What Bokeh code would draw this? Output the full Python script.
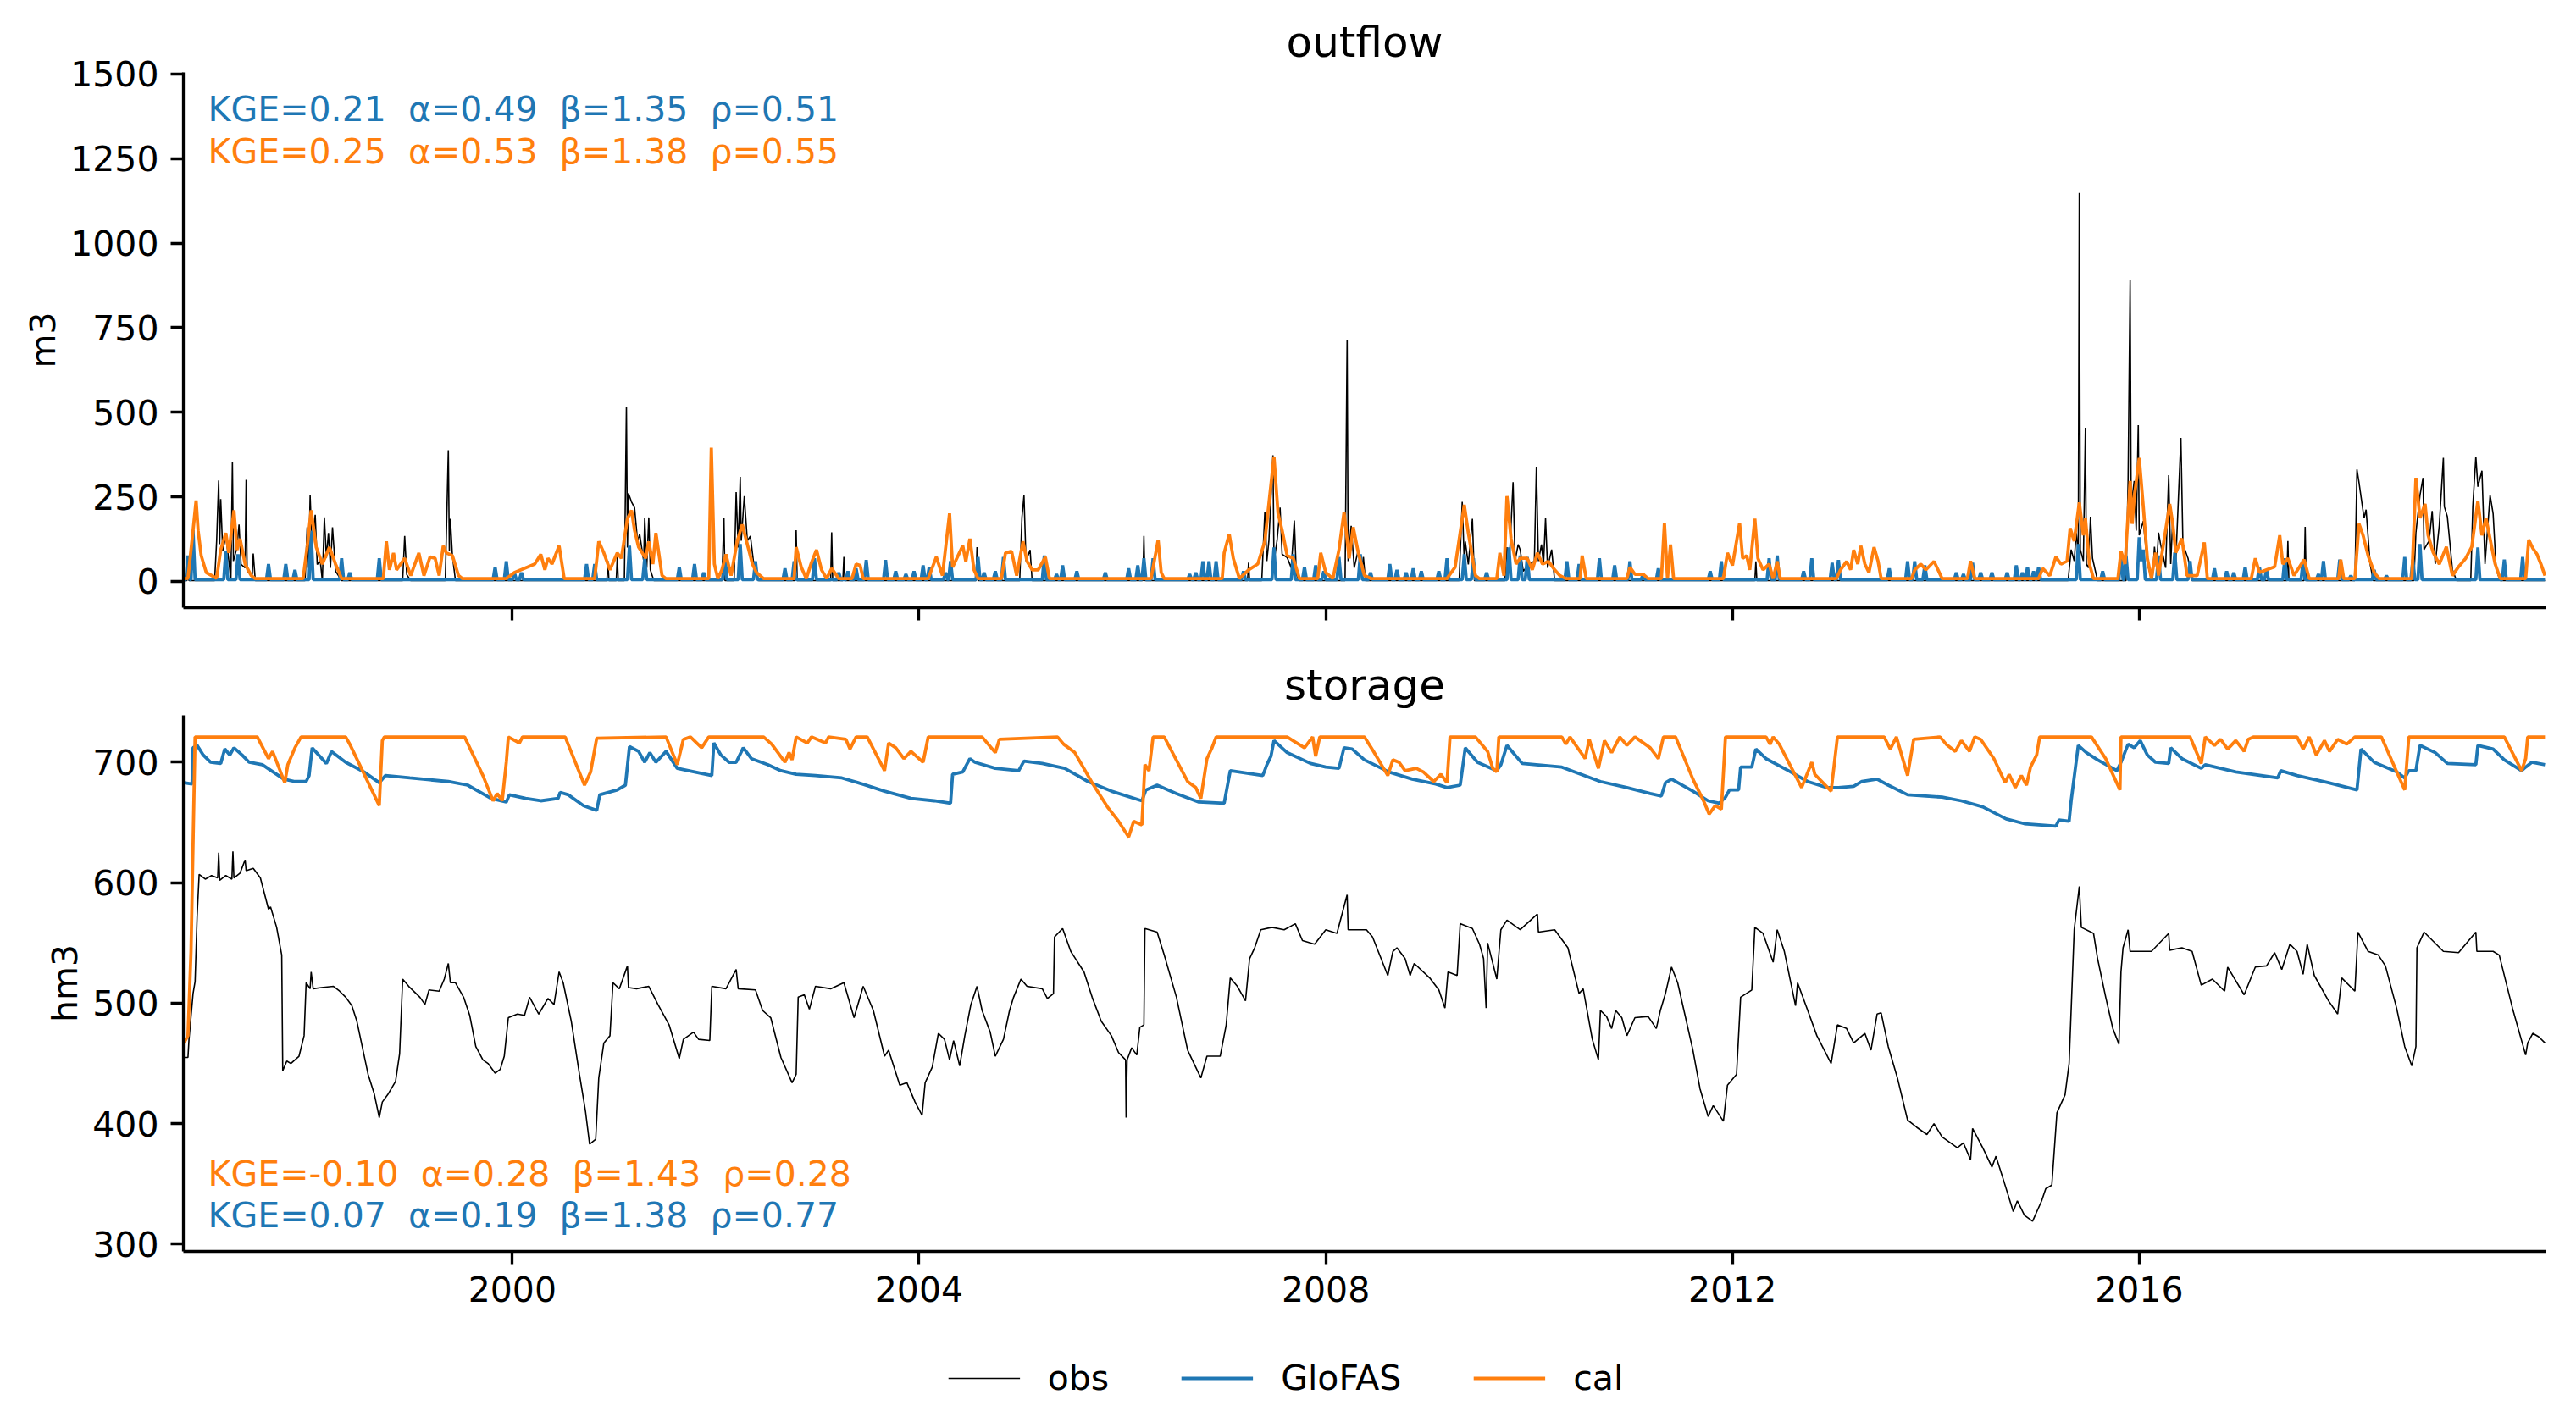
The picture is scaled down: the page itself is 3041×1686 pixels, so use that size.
import numpy as np
import pandas as pd
from bokeh.plotting import figure
from bokeh.layouts import column
from bokeh.models import (ColumnDataSource, Range1d, FixedTicker, DatetimeTickFormatter,
                          CustomJSTickFormatter, Label, Legend, LegendItem)
from bokeh.embed import file_html
from bokeh.resources import INLINE

FONT = "DejaVu Sans"
BLACK, BLUE, ORANGE = "#000000", "#1f77b4", "#ff7f0e"

# series: (decimal year, value)
obs_outflow = [
    (1996.77, 2), (1996.80, 2), (1996.81, 76), (1996.82, 2), (1997.07, 2), (1997.09, 120), (1997.11, 298),
    (1997.12, 110), (1997.13, 243), (1997.15, 90), (1997.18, 134), (1997.21, 60), (1997.23, 2), (1997.245, 352),
    (1997.255, 60), (1997.29, 100), (1997.31, 168), (1997.33, 50), (1997.37, 40), (1997.38, 300), (1997.39, 30),
    (1997.44, 20), (1997.45, 82), (1997.47, 2), (1997.96, 2), (1997.98, 160), (1997.995, 40), (1998.01, 254),
    (1998.03, 90), (1998.06, 197), (1998.08, 50), (1998.11, 60), (1998.13, 2), (1998.15, 189), (1998.17, 70),
    (1998.19, 143), (1998.21, 40), (1998.23, 160), (1998.26, 30), (1998.32, 2), (1998.92, 2), (1998.94, 134),
    (1998.96, 20), (1999.00, 2), (1999.34, 2), (1999.37, 388), (1999.38, 90), (1999.39, 185), (1999.41, 76),
    (1999.44, 2), (2000.93, 2), (2000.94, 60), (2000.95, 2), (2001.02, 2), (2001.03, 72), (2001.04, 2),
    (2001.10, 2), (2001.12, 515), (2001.13, 100), (2001.14, 260), (2001.17, 235), (2001.20, 218), (2001.23, 118),
    (2001.25, 140), (2001.29, 60), (2001.30, 189), (2001.32, 40), (2001.34, 189), (2001.355, 34), (2001.39, 2),
    (2002.06, 2), (2002.08, 189), (2002.09, 2), (2002.18, 2), (2002.20, 264), (2002.22, 100), (2002.24, 309),
    (2002.25, 120), (2002.28, 252), (2002.31, 120), (2002.34, 134), (2002.37, 59), (2002.42, 2), (2002.78, 2),
    (2002.79, 151), (2002.80, 2), (2003.13, 2), (2003.14, 145), (2003.15, 2), (2003.25, 2), (2003.26, 72),
    (2003.27, 2), (2004.56, 2), (2004.57, 101), (2004.58, 2), (2004.99, 2), (2005.01, 189), (2005.03, 254),
    (2005.05, 60), (2005.09, 93), (2005.11, 2), (2006.20, 2), (2006.21, 134), (2006.22, 2), (2007.23, 2),
    (2007.24, 55), (2007.25, 2), (2007.37, 2), (2007.40, 206), (2007.42, 60), (2007.44, 120), (2007.48, 373),
    (2007.49, 59), (2007.52, 120), (2007.55, 218), (2007.57, 80), (2007.62, 70), (2007.66, 40), (2007.69, 180),
    (2007.71, 20), (2007.74, 2), (2008.19, 2), (2008.21, 713), (2008.22, 60), (2008.25, 164), (2008.28, 40),
    (2008.32, 93), (2008.35, 20), (2008.37, 72), (2008.39, 2), (2009.31, 2), (2009.34, 235), (2009.36, 60),
    (2009.37, 118), (2009.40, 50), (2009.44, 185), (2009.46, 2), (2009.76, 2), (2009.78, 101), (2009.80, 40),
    (2009.84, 293), (2009.86, 60), (2009.89, 109), (2009.91, 93), (2009.94, 30), (2010.00, 50), (2010.05, 60),
    (2010.07, 339), (2010.09, 60), (2010.12, 109), (2010.14, 50), (2010.16, 186), (2010.18, 40), (2010.22, 94),
    (2010.25, 2), (2012.22, 2), (2012.23, 59), (2012.24, 2), (2015.30, 2), (2015.33, 94), (2015.36, 60),
    (2015.38, 144), (2015.40, 80), (2015.41, 1149), (2015.42, 94), (2015.45, 60), (2015.47, 454), (2015.48, 51),
    (2015.50, 40), (2015.52, 191), (2015.54, 68), (2015.59, 2), (2015.87, 2), (2015.89, 297), (2015.91, 891),
    (2015.92, 221), (2015.95, 297), (2015.97, 150), (2015.99, 462), (2016.00, 136), (2016.04, 178), (2016.08, 51),
    (2016.13, 2), (2016.15, 102), (2016.17, 40), (2016.19, 144), (2016.21, 110), (2016.26, 40), (2016.29, 314),
    (2016.31, 51), (2016.33, 187), (2016.36, 60), (2016.41, 424), (2016.43, 110), (2016.48, 68), (2016.52, 2),
    (2017.45, 2), (2017.46, 119), (2017.47, 2), (2017.62, 2), (2017.63, 161), (2017.64, 2), (2018.12, 2),
    (2018.14, 331), (2018.16, 293), (2018.19, 229), (2018.21, 187), (2018.23, 212), (2018.27, 51), (2018.30, 2),
    (2018.70, 2), (2018.72, 144), (2018.76, 255), (2018.79, 306), (2018.80, 94), (2018.85, 120), (2018.88, 208),
    (2018.91, 51), (2018.95, 166), (2018.99, 365), (2019.00, 221), (2019.03, 191), (2019.08, 34), (2019.12, 2),
    (2019.26, 2), (2019.28, 221), (2019.31, 369), (2019.33, 280), (2019.37, 327), (2019.40, 51), (2019.45, 255),
    (2019.48, 200), (2019.51, 34), (2019.55, 2), (2019.99, 2),
]

glofas_outflow = [
    (1996.77, 5), (1996.79, 5), (1996.81, 76), (1996.83, 5), (1996.84, 5), (1996.86, 151), (1996.88, 5),
    (1997.16, 5), (1997.18, 90), (1997.20, 5), (1997.28, 5), (1997.30, 80), (1997.32, 5),
    (1997.58, 5), (1997.60, 51), (1997.62, 5), (1997.75, 5), (1997.77, 51), (1997.79, 5),
    (1997.84, 5), (1997.86, 34), (1997.88, 5), (1998.00, 5), (1998.02, 150), (1998.04, 5),
    (1998.30, 5), (1998.32, 68), (1998.34, 5), (1998.38, 5), (1998.40, 26), (1998.42, 5),
    (1998.67, 5), (1998.69, 68), (1998.71, 5), (1999.81, 5), (1999.83, 42), (1999.85, 5),
    (1999.92, 5), (1999.94, 59), (1999.96, 5), (2000.00, 5), (2000.02, 26), (2000.04, 5),
    (2000.07, 5), (2000.09, 26), (2000.11, 5), (2000.71, 5), (2000.73, 51), (2000.75, 5),
    (2000.79, 5), (2000.81, 51), (2000.83, 5), (2001.13, 5), (2001.15, 105), (2001.17, 5),
    (2001.28, 5), (2001.30, 68), (2001.32, 5), (2001.62, 5), (2001.64, 42), (2001.66, 5),
    (2001.77, 5), (2001.79, 51), (2001.81, 5), (2001.86, 5), (2001.88, 26), (2001.90, 5),
    (2002.07, 5), (2002.09, 76), (2002.11, 5), (2002.22, 5), (2002.24, 110), (2002.26, 5),
    (2002.37, 5), (2002.39, 59), (2002.41, 5), (2002.66, 5), (2002.68, 38), (2002.70, 5),
    (2002.75, 5), (2002.77, 59), (2002.79, 5), (2002.95, 5), (2002.97, 68), (2002.99, 5),
    (2003.19, 5), (2003.21, 26), (2003.23, 5), (2003.28, 5), (2003.30, 30), (2003.32, 5),
    (2003.36, 5), (2003.38, 38), (2003.40, 5), (2003.46, 5), (2003.48, 63), (2003.50, 5),
    (2003.65, 5), (2003.67, 63), (2003.69, 5), (2003.75, 5), (2003.77, 30), (2003.79, 5),
    (2003.85, 5), (2003.87, 21), (2003.89, 5), (2003.93, 5), (2003.95, 30), (2003.97, 5),
    (2004.02, 5), (2004.04, 47), (2004.06, 5), (2004.08, 5), (2004.10, 42), (2004.12, 5),
    (2004.24, 5), (2004.26, 26), (2004.28, 5), (2004.29, 5), (2004.31, 60), (2004.33, 5),
    (2004.56, 5), (2004.58, 72), (2004.60, 5), (2004.62, 5), (2004.64, 26), (2004.66, 5),
    (2004.73, 5), (2004.75, 30), (2004.77, 5), (2004.81, 5), (2004.83, 72), (2004.85, 5),
    (2005.21, 5), (2005.23, 76), (2005.25, 5), (2005.33, 5), (2005.35, 21), (2005.37, 5),
    (2005.39, 5), (2005.41, 47), (2005.43, 5), (2005.53, 5), (2005.55, 30), (2005.57, 5),
    (2005.81, 5), (2005.83, 26), (2005.85, 5), (2006.04, 5), (2006.06, 38), (2006.08, 5),
    (2006.13, 5), (2006.15, 47), (2006.17, 5), (2006.19, 5), (2006.21, 68), (2006.23, 5),
    (2006.28, 5), (2006.30, 68), (2006.32, 5), (2006.64, 5), (2006.66, 21), (2006.68, 5),
    (2006.70, 5), (2006.72, 26), (2006.74, 5), (2006.77, 5), (2006.79, 59), (2006.81, 5),
    (2006.83, 5), (2006.85, 59), (2006.87, 5), (2006.90, 5), (2006.92, 59), (2006.94, 5),
    (2007.17, 5), (2007.19, 30), (2007.21, 5), (2007.47, 5), (2007.49, 100), (2007.51, 5),
    (2007.66, 5), (2007.68, 80), (2007.70, 5), (2007.77, 5), (2007.79, 42), (2007.81, 5),
    (2007.88, 5), (2007.90, 47), (2007.92, 5), (2007.96, 5), (2007.98, 30), (2008.00, 5),
    (2008.11, 5), (2008.13, 72), (2008.15, 5), (2008.32, 5), (2008.34, 80), (2008.36, 5),
    (2008.42, 5), (2008.44, 26), (2008.46, 5), (2008.61, 5), (2008.63, 51), (2008.65, 5),
    (2008.68, 5), (2008.70, 34), (2008.72, 5), (2008.77, 5), (2008.79, 26), (2008.81, 5),
    (2008.84, 5), (2008.86, 38), (2008.88, 5), (2008.92, 5), (2008.94, 30), (2008.96, 5),
    (2009.09, 5), (2009.11, 30), (2009.13, 5), (2009.17, 5), (2009.19, 68), (2009.21, 5),
    (2009.34, 5), (2009.36, 80), (2009.38, 5), (2009.43, 5), (2009.45, 68), (2009.47, 5),
    (2009.56, 5), (2009.58, 26), (2009.60, 5), (2009.78, 5), (2009.80, 100), (2009.82, 5),
    (2009.89, 5), (2009.91, 76), (2009.93, 5), (2009.96, 5), (2009.98, 72), (2010.00, 5),
    (2010.35, 5), (2010.37, 59), (2010.39, 5), (2010.47, 5), (2010.49, 51), (2010.51, 5),
    (2010.67, 5), (2010.69, 68), (2010.71, 5), (2010.82, 5), (2010.84, 47), (2010.86, 5),
    (2010.97, 5), (2010.99, 59), (2011.01, 5), (2011.10, 5), (2011.12, 21), (2011.14, 5),
    (2011.25, 5), (2011.27, 38), (2011.29, 5), (2011.76, 5), (2011.78, 30), (2011.80, 5),
    (2011.87, 5), (2011.89, 59), (2011.91, 5), (2012.34, 5), (2012.36, 68), (2012.38, 5),
    (2012.42, 5), (2012.44, 76), (2012.46, 5), (2012.68, 5), (2012.70, 30), (2012.72, 5),
    (2012.76, 5), (2012.78, 68), (2012.80, 5), (2012.96, 5), (2012.98, 55), (2013.00, 5),
    (2013.02, 5), (2013.04, 63), (2013.06, 5), (2013.52, 5), (2013.54, 38), (2013.56, 5),
    (2013.70, 5), (2013.72, 59), (2013.74, 5), (2013.77, 5), (2013.79, 59), (2013.81, 5),
    (2013.87, 5), (2013.89, 47), (2013.91, 5), (2014.18, 5), (2014.20, 26), (2014.22, 5),
    (2014.25, 5), (2014.27, 21), (2014.29, 5), (2014.34, 5), (2014.36, 55), (2014.38, 5),
    (2014.42, 5), (2014.44, 26), (2014.46, 5), (2014.53, 5), (2014.55, 26), (2014.57, 5),
    (2014.68, 5), (2014.70, 26), (2014.72, 5), (2014.77, 5), (2014.79, 47), (2014.81, 5),
    (2014.83, 5), (2014.85, 26), (2014.87, 5), (2014.88, 5), (2014.90, 43), (2014.92, 5),
    (2014.94, 5), (2014.96, 30), (2014.98, 5), (2014.99, 5), (2015.01, 43), (2015.03, 5),
    (2015.38, 5), (2015.40, 110), (2015.42, 5), (2015.62, 5), (2015.64, 30), (2015.66, 5),
    (2015.80, 5), (2015.82, 85), (2015.84, 5), (2015.85, 5), (2015.87, 76), (2015.89, 5),
    (2015.98, 5), (2016.00, 130), (2016.02, 60), (2016.04, 94), (2016.06, 5),
    (2016.17, 5), (2016.19, 76), (2016.21, 5), (2016.33, 5), (2016.35, 85), (2016.37, 5),
    (2016.48, 5), (2016.50, 60), (2016.52, 5), (2016.72, 5), (2016.74, 38), (2016.76, 5),
    (2016.84, 5), (2016.86, 30), (2016.88, 5), (2016.91, 5), (2016.93, 26), (2016.95, 5),
    (2017.02, 5), (2017.04, 43), (2017.06, 5), (2017.16, 5), (2017.18, 43), (2017.20, 5),
    (2017.23, 5), (2017.25, 34), (2017.27, 5), (2017.41, 5), (2017.43, 68), (2017.45, 5),
    (2017.59, 5), (2017.61, 64), (2017.63, 5), (2017.74, 5), (2017.76, 21), (2017.78, 5),
    (2017.79, 5), (2017.81, 60), (2017.83, 5), (2017.95, 5), (2017.97, 64), (2017.99, 5),
    (2018.06, 5), (2018.08, 17), (2018.10, 5), (2018.29, 5), (2018.31, 34), (2018.33, 5),
    (2018.41, 5), (2018.43, 17), (2018.45, 5), (2018.59, 5), (2018.61, 72), (2018.63, 5),
    (2018.67, 5), (2018.69, 64), (2018.71, 5), (2018.74, 5), (2018.76, 110), (2018.78, 5),
    (2019.31, 5), (2019.33, 100), (2019.35, 5), (2019.57, 5), (2019.59, 64), (2019.61, 5),
    (2019.75, 5), (2019.77, 72), (2019.79, 5), (2019.99, 5),
]

cal_outflow = [
    (1996.77, 8), (1996.81, 9), (1996.86, 150), (1996.89, 239), (1996.91, 150), (1996.94, 76), (1996.99, 26),
    (1997.09, 9), (1997.13, 93), (1997.18, 143), (1997.21, 84), (1997.26, 210), (1997.29, 93), (1997.32, 126),
    (1997.37, 51), (1997.43, 17), (1997.47, 8), (1997.94, 8), (1997.98, 101), (1998.02, 210), (1998.07, 101),
    (1998.13, 51), (1998.20, 101), (1998.26, 51), (1998.32, 8), (1998.73, 8), (1998.76, 118), (1998.79, 34),
    (1998.83, 84), (1998.86, 34), (1998.94, 68), (1999.00, 17), (1999.08, 84), (1999.13, 17), (1999.19, 72),
    (1999.24, 68), (1999.28, 17), (1999.32, 105), (1999.35, 84), (1999.41, 76), (1999.47, 17), (1999.51, 8),
    (1999.94, 8), (2000.02, 26), (2000.15, 42), (2000.22, 51), (2000.28, 80), (2000.32, 34), (2000.35, 68),
    (2000.39, 51), (2000.46, 105), (2000.51, 8), (2000.81, 8), (2000.85, 118), (2000.90, 84), (2000.96, 34),
    (2001.03, 84), (2001.07, 68), (2001.13, 185), (2001.17, 210), (2001.20, 151), (2001.24, 101), (2001.31, 68),
    (2001.34, 118), (2001.38, 51), (2001.41, 143), (2001.47, 17), (2001.51, 8), (2001.93, 8), (2001.955, 395),
    (2001.985, 51), (2002.02, 8), (2002.06, 34), (2002.10, 80), (2002.15, 17), (2002.21, 118), (2002.26, 168),
    (2002.31, 109), (2002.36, 51), (2002.40, 26), (2002.47, 8), (2002.77, 8), (2002.79, 101), (2002.84, 42),
    (2002.89, 8), (2002.94, 55), (2002.99, 93), (2003.04, 34), (2003.09, 8), (2003.14, 38), (2003.21, 8),
    (2003.34, 8), (2003.38, 51), (2003.42, 47), (2003.45, 8), (2004.09, 8), (2004.17, 72), (2004.23, 17),
    (2004.30, 201), (2004.33, 42), (2004.43, 105), (2004.46, 59), (2004.50, 126), (2004.54, 34), (2004.58, 8),
    (2004.81, 8), (2004.85, 84), (2004.91, 89), (2004.96, 17), (2005.02, 118), (2005.06, 59), (2005.11, 34),
    (2005.17, 34), (2005.24, 72), (2005.28, 8), (2006.28, 8), (2006.35, 122), (2006.38, 26), (2006.41, 8),
    (2006.98, 8), (2007.00, 84), (2007.05, 139), (2007.09, 68), (2007.15, 8), (2007.24, 34), (2007.33, 51),
    (2007.40, 118), (2007.49, 369), (2007.53, 201), (2007.57, 151), (2007.62, 76), (2007.68, 68), (2007.74, 8),
    (2007.92, 8), (2007.95, 84), (2008.00, 26), (2008.07, 8), (2008.13, 93), (2008.18, 205), (2008.23, 68),
    (2008.27, 160), (2008.32, 84), (2008.38, 17), (2008.45, 8), (2009.19, 8), (2009.21, 17), (2009.27, 42),
    (2009.36, 226), (2009.40, 143), (2009.47, 17), (2009.51, 8), (2009.68, 8), (2009.71, 84), (2009.75, 17),
    (2009.78, 252), (2009.82, 126), (2009.87, 51), (2009.91, 68), (2009.98, 68), (2010.03, 34), (2010.08, 84),
    (2010.13, 51), (2010.19, 59), (2010.25, 34), (2010.30, 17), (2010.36, 8), (2010.50, 8), (2010.52, 76),
    (2010.56, 8), (2010.96, 8), (2010.99, 42), (2011.04, 21), (2011.12, 21), (2011.17, 8), (2011.30, 8),
    (2011.33, 172), (2011.36, 8), (2011.39, 109), (2011.42, 8), (2011.91, 8), (2011.95, 84), (2012.00, 47),
    (2012.07, 172), (2012.10, 68), (2012.14, 76), (2012.17, 34), (2012.22, 185), (2012.25, 68), (2012.30, 34),
    (2012.36, 51), (2012.40, 8), (2012.44, 59), (2012.47, 8), (2013.02, 8), (2013.06, 34), (2013.12, 59),
    (2013.16, 34), (2013.19, 93), (2013.23, 51), (2013.26, 105), (2013.30, 51), (2013.34, 26), (2013.39, 101),
    (2013.43, 59), (2013.46, 8), (2013.76, 8), (2013.79, 34), (2013.85, 51), (2013.90, 34), (2013.98, 59),
    (2014.02, 34), (2014.06, 8), (2014.31, 8), (2014.34, 60), (2014.38, 8), (2015.01, 8), (2015.05, 38),
    (2015.12, 17), (2015.18, 72), (2015.23, 51), (2015.29, 60), (2015.32, 157), (2015.36, 119), (2015.41, 233),
    (2015.45, 136), (2015.47, 187), (2015.51, 51), (2015.55, 8), (2015.79, 8), (2015.82, 89), (2015.86, 51),
    (2015.91, 297), (2015.93, 170), (2015.95, 246), (2016.00, 365), (2016.04, 221), (2016.08, 68), (2016.12, 8),
    (2016.16, 85), (2016.19, 17), (2016.30, 229), (2016.33, 170), (2016.36, 85), (2016.42, 127), (2016.47, 17),
    (2016.57, 17), (2016.64, 115), (2016.67, 8), (2017.10, 8), (2017.14, 68), (2017.18, 26), (2017.25, 34),
    (2017.33, 43), (2017.38, 136), (2017.41, 51), (2017.46, 68), (2017.52, 17), (2017.62, 64), (2017.67, 8),
    (2017.96, 8), (2017.98, 64), (2018.01, 8), (2018.12, 8), (2018.16, 170), (2018.20, 136), (2018.25, 76),
    (2018.31, 26), (2018.36, 8), (2018.68, 8), (2018.72, 306), (2018.76, 187), (2018.81, 229), (2018.84, 136),
    (2018.89, 85), (2018.95, 51), (2019.02, 102), (2019.08, 17), (2019.14, 43), (2019.21, 68), (2019.27, 102),
    (2019.33, 238), (2019.37, 136), (2019.41, 187), (2019.46, 110), (2019.50, 51), (2019.55, 8), (2019.80, 8),
    (2019.83, 123), (2019.87, 98), (2019.91, 81), (2019.95, 51), (2019.99, 17),
]

obs_storage = [
    (1996.77, 455), (1996.81, 455), (1996.82, 470), (1996.86, 508), (1996.88, 518), (1996.90, 572), (1996.92, 607),
    (1996.98, 603), (1997.04, 606), (1997.10, 604), (1997.11, 625), (1997.12, 602), (1997.18, 606), (1997.24, 603),
    (1997.25, 626), (1997.26, 604), (1997.32, 608), (1997.37, 619), (1997.38, 610), (1997.45, 612), (1997.52, 604),
    (1997.60, 578), (1997.62, 580), (1997.68, 563), (1997.73, 540), (1997.74, 444), (1997.78, 452), (1997.82, 450),
    (1997.90, 456), (1997.95, 473), (1997.97, 517), (1998.01, 512), (1998.02, 526), (1998.04, 512), (1998.12, 513),
    (1998.24, 514), (1998.30, 510), (1998.36, 505), (1998.42, 498), (1998.47, 485), (1998.58, 441), (1998.64, 425),
    (1998.69, 405), (1998.72, 418), (1998.78, 425), (1998.85, 435), (1998.89, 458), (1998.92, 520), (1998.98, 514),
    (1999.09, 505), (1999.14, 499), (1999.18, 511), (1999.28, 510), (1999.33, 520), (1999.37, 533), (1999.39, 517),
    (1999.44, 517), (1999.52, 505), (1999.58, 490), (1999.64, 464), (1999.71, 453), (1999.76, 450), (1999.83, 442),
    (1999.88, 445), (1999.92, 456), (1999.96, 488), (2000.05, 491), (2000.12, 490), (2000.17, 505), (2000.26, 491),
    (2000.35, 504), (2000.41, 499), (2000.46, 526), (2000.50, 517), (2000.58, 485), (2000.66, 441), (2000.72, 410),
    (2000.76, 383), (2000.82, 387), (2000.85, 438), (2000.90, 467), (2000.96, 473), (2000.99, 517), (2001.05, 512),
    (2001.13, 531), (2001.14, 513), (2001.22, 512), (2001.34, 514), (2001.43, 499), (2001.54, 482), (2001.64, 454),
    (2001.68, 470), (2001.78, 476), (2001.83, 470), (2001.94, 469), (2001.96, 514), (2002.10, 512), (2002.20, 528),
    (2002.22, 512), (2002.39, 511), (2002.46, 494), (2002.54, 488), (2002.64, 455), (2002.75, 434), (2002.79, 441),
    (2002.81, 505), (2002.87, 507), (2002.92, 495), (2002.98, 514), (2003.13, 512), (2003.26, 517), (2003.36, 488),
    (2003.45, 514), (2003.55, 494), (2003.66, 456), (2003.70, 461), (2003.81, 432), (2003.88, 434), (2003.96, 418),
    (2004.03, 407), (2004.06, 434), (2004.13, 447), (2004.19, 475), (2004.25, 470), (2004.30, 453), (2004.34, 469),
    (2004.40, 448), (2004.45, 473), (2004.51, 499), (2004.57, 514), (2004.62, 494), (2004.70, 476), (2004.75, 456),
    (2004.83, 470), (2004.89, 494), (2004.93, 505), (2005.00, 520), (2005.06, 514), (2005.21, 512), (2005.26, 504),
    (2005.32, 508), (2005.33, 555), (2005.41, 562), (2005.49, 543), (2005.62, 526), (2005.70, 505), (2005.79, 485),
    (2005.89, 473), (2005.96, 459), (2006.03, 453), (2006.035, 405), (2006.045, 453), (2006.09, 463), (2006.14, 457),
    (2006.17, 480), (2006.21, 482), (2006.22, 562), (2006.34, 559), (2006.41, 540), (2006.53, 505), (2006.64, 461),
    (2006.77, 438), (2006.83, 456), (2006.96, 456), (2007.02, 482), (2007.06, 521), (2007.13, 514), (2007.21, 502),
    (2007.25, 537), (2007.30, 546), (2007.36, 561), (2007.47, 563), (2007.59, 561), (2007.70, 566), (2007.77, 552),
    (2007.89, 549), (2008.00, 561), (2008.11, 558), (2008.21, 590), (2008.22, 561), (2008.40, 561), (2008.46, 555),
    (2008.61, 523), (2008.66, 543), (2008.70, 546), (2008.78, 537), (2008.83, 523), (2008.87, 533), (2009.02, 521),
    (2009.11, 511), (2009.17, 496), (2009.20, 526), (2009.29, 523), (2009.32, 566), (2009.44, 562), (2009.51, 549),
    (2009.55, 537), (2009.575, 496), (2009.59, 550), (2009.68, 520), (2009.72, 561), (2009.78, 569), (2009.91, 561),
    (2010.08, 574), (2010.09, 559), (2010.25, 561), (2010.38, 546), (2010.49, 508), (2010.53, 512), (2010.62, 470),
    (2010.68, 453), (2010.70, 494), (2010.76, 489), (2010.81, 479), (2010.85, 494), (2010.91, 488), (2010.96, 473),
    (2011.04, 488), (2011.17, 489), (2011.25, 479), (2011.29, 494), (2011.34, 508), (2011.40, 530), (2011.46, 517),
    (2011.53, 491), (2011.61, 461), (2011.68, 429), (2011.76, 406), (2011.81, 415), (2011.91, 402), (2011.95, 432),
    (2012.04, 441), (2012.08, 505), (2012.19, 511), (2012.22, 563), (2012.30, 558), (2012.40, 534), (2012.44, 561),
    (2012.51, 543), (2012.62, 498), (2012.64, 517), (2012.74, 494), (2012.83, 473), (2012.97, 450), (2013.03, 482),
    (2013.12, 479), (2013.19, 467), (2013.30, 475), (2013.36, 461), (2013.42, 491), (2013.46, 492), (2013.53, 464),
    (2013.62, 438), (2013.72, 403), (2013.81, 397), (2013.91, 391), (2013.98, 400), (2014.06, 389), (2014.21, 380),
    (2014.27, 384), (2014.34, 370), (2014.36, 396), (2014.46, 380), (2014.55, 364), (2014.59, 373), (2014.65, 357),
    (2014.76, 327), (2014.80, 336), (2014.87, 324), (2014.95, 319), (2015.04, 336), (2015.08, 346), (2015.14, 349),
    (2015.19, 409), (2015.27, 424), (2015.31, 450), (2015.36, 561), (2015.41, 597), (2015.43, 563), (2015.55, 558),
    (2015.59, 537), (2015.67, 505), (2015.74, 479), (2015.80, 466), (2015.82, 526), (2015.84, 546), (2015.89, 561),
    (2015.91, 543), (2015.97, 543), (2016.12, 543), (2016.29, 558), (2016.30, 544), (2016.42, 546), (2016.52, 543),
    (2016.61, 515), (2016.72, 520), (2016.84, 510), (2016.87, 530), (2017.03, 507), (2017.14, 530), (2017.25, 531),
    (2017.33, 542), (2017.40, 528), (2017.48, 549), (2017.55, 543), (2017.61, 524), (2017.65, 549), (2017.72, 523),
    (2017.86, 502), (2017.95, 491), (2017.99, 521), (2018.12, 510), (2018.15, 559), (2018.25, 543), (2018.35, 540),
    (2018.42, 531), (2018.53, 496), (2018.61, 464), (2018.68, 448), (2018.72, 464), (2018.73, 546), (2018.80, 559),
    (2018.99, 543), (2019.14, 542), (2019.31, 559), (2019.32, 543), (2019.48, 543), (2019.54, 540), (2019.67, 496),
    (2019.80, 457), (2019.82, 467), (2019.87, 475), (2019.93, 472), (2019.99, 467),
]

glofas_storage = [
    (1996.77, 683), (1996.85, 682), (1996.86, 712), (1996.90, 714), (1996.96, 706), (1997.03, 700), (1997.13, 699),
    (1997.17, 711), (1997.22, 706), (1997.26, 712), (1997.34, 706), (1997.41, 700), (1997.54, 698), (1997.75, 686),
    (1997.86, 684), (1997.97, 684), (1998.00, 689), (1998.03, 712), (1998.17, 699), (1998.22, 709), (1998.36, 700),
    (1998.54, 692), (1998.69, 683), (1998.75, 689), (1998.99, 687), (1999.37, 684), (1999.56, 681), (1999.79, 670),
    (1999.94, 667), (1999.97, 673), (2000.13, 670), (2000.28, 668), (2000.45, 670), (2000.47, 675), (2000.55, 673),
    (2000.70, 664), (2000.83, 660), (2000.86, 673), (2001.03, 677), (2001.11, 681), (2001.15, 713), (2001.24, 709),
    (2001.30, 700), (2001.35, 708), (2001.41, 700), (2001.51, 709), (2001.62, 695), (2001.79, 692), (2001.96, 689),
    (2001.98, 716), (2002.05, 706), (2002.13, 700), (2002.20, 700), (2002.27, 712), (2002.35, 703), (2002.51, 698),
    (2002.64, 693), (2002.79, 690), (2002.98, 689), (2003.24, 687), (2003.40, 683), (2003.66, 676), (2003.92, 670),
    (2004.15, 668), (2004.31, 666), (2004.33, 690), (2004.43, 692), (2004.50, 703), (2004.55, 700), (2004.75, 695),
    (2004.98, 693), (2005.03, 701), (2005.21, 699), (2005.43, 695), (2005.66, 684), (2005.89, 676), (2006.19, 668),
    (2006.23, 677), (2006.34, 681), (2006.53, 674), (2006.75, 667), (2007.00, 666), (2007.06, 693), (2007.38, 689),
    (2007.42, 698), (2007.46, 705), (2007.49, 718), (2007.62, 708), (2007.85, 699), (2008.00, 696), (2008.13, 695),
    (2008.18, 712), (2008.26, 711), (2008.38, 702), (2008.62, 692), (2008.85, 686), (2009.08, 682), (2009.19, 679),
    (2009.32, 681), (2009.37, 712), (2009.49, 700), (2009.68, 693), (2009.72, 698), (2009.78, 714), (2009.83, 709),
    (2009.93, 699), (2010.32, 696), (2010.51, 690), (2010.70, 684), (2010.96, 679), (2011.19, 674), (2011.30, 672),
    (2011.34, 683), (2011.40, 686), (2011.61, 676), (2011.76, 668), (2011.87, 666), (2011.93, 671), (2011.97, 677),
    (2012.06, 677), (2012.08, 696), (2012.19, 696), (2012.23, 711), (2012.33, 703), (2012.55, 693), (2012.74, 684),
    (2012.93, 679), (2013.04, 679), (2013.19, 680), (2013.27, 684), (2013.42, 686), (2013.53, 681), (2013.72, 673),
    (2014.06, 671), (2014.25, 668), (2014.46, 663), (2014.69, 653), (2014.87, 649), (2015.18, 647), (2015.21, 652),
    (2015.31, 651), (2015.33, 668), (2015.40, 714), (2015.48, 708), (2015.59, 702), (2015.78, 693), (2015.82, 700),
    (2015.89, 715), (2015.95, 712), (2016.01, 718), (2016.08, 706), (2016.16, 700), (2016.29, 699), (2016.31, 712),
    (2016.42, 703), (2016.61, 695), (2016.65, 698), (2016.95, 692), (2017.36, 687), (2017.39, 693), (2017.55, 689),
    (2017.86, 683), (2018.14, 677), (2018.18, 711), (2018.31, 700), (2018.53, 692), (2018.61, 687), (2018.65, 693),
    (2018.72, 693), (2018.76, 714), (2018.91, 708), (2019.03, 699), (2019.31, 698), (2019.33, 714), (2019.48, 711),
    (2019.59, 702), (2019.76, 693), (2019.80, 696), (2019.86, 700), (2019.99, 698),
]

cal_storage = [
    (1996.77, 467), (1996.81, 473), (1996.84, 543), (1996.88, 721), (1997.49, 721), (1997.60, 703), (1997.64, 709),
    (1997.76, 683), (1997.79, 698), (1997.86, 712), (1997.92, 721), (1998.36, 721), (1998.40, 715), (1998.69, 664),
    (1998.72, 718), (1998.74, 721), (1999.53, 721), (1999.71, 689), (1999.81, 668), (1999.85, 674), (1999.90, 668),
    (1999.94, 700), (1999.96, 721), (2000.07, 716), (2000.10, 721), (2000.52, 721), (2000.71, 681), (2000.77, 692),
    (2000.83, 720), (2001.51, 721), (2001.62, 698), (2001.68, 719), (2001.75, 721), (2001.86, 712), (2001.93, 721),
    (2002.47, 721), (2002.55, 715), (2002.68, 700), (2002.72, 708), (2002.75, 702), (2002.79, 721), (2002.90, 716),
    (2002.94, 721), (2003.08, 716), (2003.11, 721), (2003.28, 719), (2003.32, 711), (2003.38, 721), (2003.49, 721),
    (2003.66, 693), (2003.70, 716), (2003.77, 712), (2003.85, 703), (2003.92, 709), (2004.04, 700), (2004.09, 721),
    (2004.62, 721), (2004.75, 708), (2004.79, 719), (2005.36, 721), (2005.42, 715), (2005.53, 708), (2005.70, 683),
    (2005.85, 663), (2005.96, 651), (2006.06, 638), (2006.11, 651), (2006.19, 648), (2006.22, 698), (2006.26, 693),
    (2006.30, 721), (2006.41, 721), (2006.64, 684), (2006.72, 679), (2006.77, 670), (2006.83, 703), (2006.88, 712),
    (2006.92, 721), (2007.62, 721), (2007.79, 712), (2007.87, 721), (2007.90, 705), (2007.94, 721), (2008.38, 721),
    (2008.47, 709), (2008.61, 689), (2008.66, 702), (2008.72, 700), (2008.78, 693), (2008.89, 695), (2008.96, 692),
    (2009.06, 684), (2009.13, 690), (2009.19, 683), (2009.22, 721), (2009.47, 721), (2009.59, 709), (2009.64, 695),
    (2009.68, 692), (2009.70, 721), (2010.32, 721), (2010.36, 715), (2010.40, 721), (2010.55, 703), (2010.59, 719),
    (2010.68, 695), (2010.74, 718), (2010.81, 708), (2010.89, 721), (2010.96, 714), (2011.04, 721), (2011.19, 712),
    (2011.27, 703), (2011.32, 721), (2011.44, 721), (2011.61, 686), (2011.72, 667), (2011.77, 657), (2011.83, 664),
    (2011.89, 661), (2011.93, 721), (2012.33, 721), (2012.37, 715), (2012.40, 721), (2012.46, 715), (2012.68, 679),
    (2012.78, 700), (2012.81, 690), (2012.97, 676), (2013.03, 721), (2013.49, 721), (2013.55, 711), (2013.61, 721),
    (2013.72, 689), (2013.78, 719), (2014.04, 721), (2014.10, 715), (2014.19, 709), (2014.25, 718), (2014.33, 709),
    (2014.38, 721), (2014.44, 719), (2014.57, 703), (2014.68, 683), (2014.72, 690), (2014.78, 679), (2014.84, 689),
    (2014.89, 681), (2014.93, 696), (2014.99, 706), (2015.02, 721), (2015.53, 721), (2015.67, 703), (2015.81, 677),
    (2015.82, 721), (2016.50, 721), (2016.61, 699), (2016.65, 721), (2016.74, 714), (2016.80, 719), (2016.87, 711),
    (2016.95, 718), (2017.03, 709), (2017.07, 719), (2017.12, 721), (2017.55, 721), (2017.61, 711), (2017.67, 721),
    (2017.74, 706), (2017.82, 718), (2017.87, 709), (2017.95, 719), (2018.04, 715), (2018.12, 721), (2018.38, 721),
    (2018.61, 677), (2018.65, 721), (2019.59, 721), (2019.76, 693), (2019.80, 703), (2019.82, 721), (2019.99, 721),
]

# the metric lines use two spaces between terms; a no-break space keeps the gap in SVG
GAP = " \u00a0"
outflow_metrics = [GAP.join(["KGE=0.21", "α=0.49", "β=1.35", "ρ=0.51"]),
                   GAP.join(["KGE=0.25", "α=0.53", "β=1.38", "ρ=0.55"])]
storage_metrics = [GAP.join(["KGE=-0.10", "α=0.28", "β=1.43", "ρ=0.28"]),
                   GAP.join(["KGE=0.07", "α=0.19", "β=1.38", "ρ=0.77"])]
series_names = ["obs", "GloFAS", "cal"]
year_ticks = [2000, 2004, 2008, 2012, 2016]
outflow_ticks = [0, 250, 500, 750, 1000, 1250, 1500]
storage_ticks = [300, 400, 500, 600, 700]


def to_dt(years):
    yrs = np.asarray(years, dtype=float)
    whole = np.floor(yrs).astype(int)
    start = pd.to_datetime(whole.astype(str), format="%Y")
    return start + pd.to_timedelta((yrs - whole) * 365.25, unit="D")


def source(points):
    yrs, vals = zip(*points)
    return ColumnDataSource(dict(x=to_dt(yrs), y=list(vals)))


def style(p, ylabel, yticks):
    p.outline_line_color = None
    p.grid.visible = False
    p.title.text_font = FONT
    p.title.text_font_size = "50px"
    p.title.text_font_style = "normal"
    p.title.text_color = "black"
    p.title.align = "center"
    p.title.standoff = 14
    for ax in (p.xaxis[0], p.yaxis[0]):
        ax.axis_line_width = 3.3
        ax.major_tick_line_width = 3.3
        ax.major_tick_out = 15
        ax.major_tick_in = 0
        ax.minor_tick_out = 0
        ax.minor_tick_in = 0
        ax.major_label_text_font = FONT
        ax.major_label_text_font_size = "41px"
        ax.major_label_text_color = "black"
        ax.major_label_standoff = 14
        ax.axis_label_text_font = FONT
        ax.axis_label_text_font_size = "41px"
        ax.axis_label_text_font_style = "normal"
        ax.axis_label_text_color = "black"
        ax.axis_label_standoff = 5
    p.yaxis.axis_label = ylabel
    p.yaxis.ticker = FixedTicker(ticks=yticks)
    p.xaxis.ticker = FixedTicker(ticks=[pd.Timestamp(f"{y}-01-01").value / 1e6 for y in year_ticks])


x_range = Range1d(start=to_dt([1996.765])[0], end=to_dt([2020.0])[0])
storage_sources = [source(s) for s in (obs_storage, glofas_storage, cal_storage)]
line_looks = [(BLACK, 1.6), (BLUE, 3.8), (ORANGE, 3.8)]

# outflow panel
p1 = figure(width=3025, height=762, x_axis_type="datetime", x_range=x_range, y_range=Range1d(-78, 1505),
            title="outflow", output_backend="svg", toolbar_location=None,
            min_border_left=216, min_border_right=20, min_border_top=85, min_border_bottom=45)
style(p1, "m3", outflow_ticks)
p1.xaxis.formatter = CustomJSTickFormatter(code="return ''")
p1.xaxis.major_label_text_font_size = "0px"
p1.xaxis.major_label_standoff = 0

for pts, (c, w) in zip((obs_outflow, glofas_outflow, cal_outflow), line_looks):
    p1.line("x", "y", source=source(pts), color=c, line_width=w)

# storage panel
p2 = figure(width=3025, height=810, x_axis_type="datetime", x_range=x_range, y_range=Range1d(294, 739),
            title="storage", output_backend="svg", toolbar_location=None,
            min_border_left=216, min_border_right=20, min_border_top=82, min_border_bottom=95)
style(p2, "hm3", storage_ticks)
p2.xaxis.formatter = DatetimeTickFormatter(years="%Y", months="%Y", days="%Y", hours="%Y")

for src, (c, w) in zip(storage_sources, line_looks):
    p2.line("x", "y", source=src, color=c, line_width=w)

text_x = pd.Timestamp("1997-01-03")
for p, texts, ys, colors in ((p1, outflow_metrics, (1397, 1272), (BLUE, ORANGE)),
                             (p2, storage_metrics, (358, 324), (ORANGE, BLUE))):
    for t, y, c in zip(texts, ys, colors):
        p.add_layout(Label(x=text_x, y=y, text=t, text_color=c, text_font=FONT,
                           text_font_size="41px", text_baseline="middle"))

# shared legend strip under both panels, centred on the page like a figure legend;
# its key lines reuse the storage sources, which lie outside this strip's ranges
p3 = figure(width=3025, height=90, x_range=Range1d(0, 1), y_range=Range1d(0, 1),
            x_axis_type=None, y_axis_type=None, output_backend="svg", toolbar_location=None,
            min_border=0, min_border_left=10, min_border_top=20)
p3.frame_align = False
p3.outline_line_color = None
key_lines = [p3.line("x", "y", source=src, color=c, line_width=w)
             for src, (c, w) in zip(storage_sources, line_looks)]
legend = Legend(items=[LegendItem(label=n, renderers=[r]) for n, r in zip(series_names, key_lines)],
                orientation="horizontal", location="center",
                glyph_width=85, glyph_height=20, label_standoff=33, spacing=85,
                padding=0, margin=0, border_line_alpha=0, background_fill_alpha=0,
                label_text_font=FONT, label_text_font_size="41px", label_text_color="black")
p3.add_layout(legend, "center")

layout = column(p1, p2, p3)
open("out.html", "w").write(file_html(layout, INLINE))
